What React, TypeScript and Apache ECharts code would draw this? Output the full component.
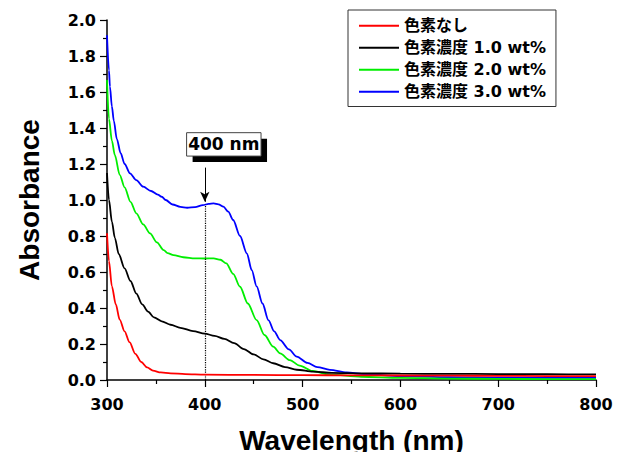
import React, { useEffect, useRef } from "react";
import * as echarts from "echarts";

const seriesNames = ["色素なし", "色素濃度 1.0 wt%", "色素濃度 2.0 wt%", "色素濃度 3.0 wt%"];
const seriesColors = ["#ff0000", "#000000", "#00ee00", "#0000ff"];

const redData: [number, number][] = [
  [300, 0.815], [302, 0.66], [305, 0.52], [309, 0.42], [313, 0.335], [318, 0.27], [323, 0.21],
  [329, 0.145], [335, 0.1], [341, 0.07], [347, 0.052], [355, 0.042], [365, 0.037], [380, 0.033],
  [400, 0.03], [450, 0.028], [500, 0.027], [550, 0.026], [600, 0.025], [650, 0.024], [700, 0.023],
  [750, 0.022], [800, 0.021],
];
const blackData: [number, number][] = [
  [300, 1.15], [302, 1.0], [305, 0.88], [308, 0.79], [312, 0.7], [318, 0.62], [324, 0.55],
  [330, 0.48], [336, 0.42], [342, 0.38], [348, 0.348], [356, 0.326], [365, 0.307], [375, 0.29],
  [388, 0.272], [400, 0.258], [410, 0.245], [420, 0.228], [430, 0.205], [440, 0.172], [450, 0.142],
  [460, 0.115], [470, 0.093], [482, 0.072], [494, 0.057], [511, 0.046], [530, 0.04], [560, 0.037],
  [600, 0.035], [650, 0.034], [700, 0.033], [750, 0.032], [800, 0.031],
];
const greenData: [number, number][] = [
  [300, 1.667], [302, 1.45], [305, 1.33], [308, 1.25], [313, 1.14], [318, 1.07], [324, 0.99],
  [330, 0.926], [337, 0.865], [344, 0.815], [351, 0.765], [358, 0.722], [362, 0.705], [368, 0.694],
  [378, 0.682], [390, 0.676], [400, 0.675], [409, 0.676], [416, 0.668], [422, 0.648], [429, 0.59],
  [436, 0.518], [444, 0.425], [453, 0.333], [461, 0.25], [470, 0.185], [477, 0.148], [487, 0.11],
  [497, 0.08], [510, 0.05], [528, 0.03], [560, 0.018], [600, 0.012], [650, 0.008], [700, 0.006],
  [750, 0.005], [800, 0.005],
];
const blueData: [number, number][] = [
  [300, 1.915], [302, 1.72], [303, 1.63], [305, 1.52], [307, 1.44], [310, 1.34], [314, 1.26],
  [318, 1.2], [323.5, 1.148], [330, 1.11], [337, 1.074], [345, 1.05], [352, 1.03], [356, 1.018],
  [360, 1.0], [367, 0.975], [375, 0.962], [382, 0.957], [390, 0.96], [398, 0.972], [404, 0.978],
  [409, 0.981], [414, 0.976], [419, 0.963], [424, 0.935], [429, 0.889], [436, 0.8], [443, 0.704],
  [448, 0.61], [453, 0.52], [459, 0.425], [465, 0.333], [471, 0.27], [477, 0.222], [486, 0.17],
  [494, 0.13], [505, 0.095], [515, 0.072], [528, 0.056], [545, 0.042], [562, 0.033], [600, 0.022],
  [650, 0.016], [700, 0.013], [750, 0.012], [800, 0.012],
];
const allData = [redData, blackData, greenData, blueData];

// annotation (data coordinates)
const markerWavelength = 400;
const markerPeak = 0.975;
const arrowStart = 1.18;
const arrowEnd = 0.99;
const boxLabel = "400 nm";
const boxLeftTop: [number, number] = [381.4, 1.374];
const boxRightBottom: [number, number] = [457.5, 1.244];

const NUM_FONT = "DejaVu Sans";
const NAME_FONT = "Liberation Sans";
const LEGEND_FONT = "'DejaVu Sans', 'Noto Sans CJK JP'";

export default function App() {
  const ref = useRef<HTMLDivElement>(null);
  useEffect(() => {
    const chart = echarts.init(ref.current!, null, { renderer: "svg" });
    const axisCommon = {
      type: "value" as const,
      nameLocation: "middle" as const,
      nameTextStyle: { fontFamily: NAME_FONT, fontWeight: "bold" as const, fontSize: 28, color: "#000" },
      axisLine: { show: true, onZero: false, lineStyle: { color: "#000", width: 1.5 } },
      axisTick: { show: true, inside: false, length: 7, lineStyle: { color: "#000", width: 1.2 } },
      minorTick: { show: true, splitNumber: 2, length: 4, lineStyle: { color: "#000", width: 1.2 } },
      splitLine: { show: false },
      minorSplitLine: { show: false },
    };
    chart.setOption({
      animation: false,
      backgroundColor: "#fff",
      grid: { left: 107, right: 30, top: 20, bottom: 72, outerBoundsMode: "none", containLabel: false },
      xAxis: {
        ...axisCommon,
        min: 300,
        max: 800,
        interval: 100,
        name: "Wavelength (nm)",
        nameGap: 46,
        axisLabel: { fontFamily: NUM_FONT, fontWeight: "bold", fontSize: 16, color: "#000", margin: 16 },
      },
      yAxis: {
        ...axisCommon,
        min: 0,
        max: 2,
        interval: 0.2,
        name: "Absorbance",
        nameGap: 64,
        axisLabel: {
          fontFamily: NUM_FONT,
          fontWeight: "bold",
          fontSize: 16,
          color: "#000",
          margin: 11,
          formatter: (v: number) => v.toFixed(1),
        },
      },
      legend: {
        data: seriesNames.map((n, i) => ({ name: n, icon: "rect", itemStyle: { color: seriesColors[i] } })),
        orient: "vertical",
        left: 348,
        top: 10,
        itemWidth: 40,
        itemHeight: 2,
        itemGap: 2.5,
        padding: [6, 10, 5, 11],
        borderColor: "#333",
        borderWidth: 1,
        backgroundColor: "#fff",
        textStyle: { fontFamily: LEGEND_FONT, fontWeight: "bold", fontSize: 16, color: "#000", lineHeight: 19.5 },
      },
      series: allData.map((d, i) => ({
        name: seriesNames[i],
        type: "line",
        data: d,
        showSymbol: false,
        symbol: "none",
        smooth: 0.3,
        smoothMonotone: "x",
        color: seriesColors[i],
        lineStyle: { color: seriesColors[i], width: 1.8 },
        z: 2 + (3 - i),
        markLine:
          i === 3
            ? {
                silent: true,
                animation: false,
                label: { show: false },
                symbol: ["none", "none"],
                data: [
                  [
                    { coord: [markerWavelength, 0], symbol: "none", lineStyle: { type: "dotted", color: "#000", width: 1.2 } },
                    { coord: [markerWavelength, markerPeak], symbol: "none" },
                  ],
                  [
                    { coord: [markerWavelength, arrowStart], symbol: "none", lineStyle: { type: "solid", color: "#000", width: 1 } },
                    { coord: [markerWavelength, arrowEnd], symbol: "arrow", symbolSize: [7, 10] },
                  ],
                ],
              }
            : undefined,
      })),
    });
    const p0 = chart.convertToPixel({ gridIndex: 0 }, boxLeftTop) as number[];
    const p1 = chart.convertToPixel({ gridIndex: 0 }, boxRightBottom) as number[];
    const w = p1[0] - p0[0];
    const h = p1[1] - p0[1];
    chart.setOption({
      graphic: [
        {
          type: "rect",
          shape: { x: p0[0] + 6, y: p0[1] + 6, width: w, height: h },
          style: { fill: "#000" },
          z: 100,
        },
        {
          type: "rect",
          shape: { x: p0[0], y: p0[1], width: w, height: h },
          style: { fill: "#fff", stroke: "#444", lineWidth: 1 },
          z: 101,
        },
        {
          type: "text",
          x: p0[0] + w / 2,
          y: p0[1] + h / 2,
          style: {
            text: boxLabel,
            fontFamily: NUM_FONT,
            fontWeight: "bold",
            fontSize: 17,
            fill: "#000",
            align: "center",
            verticalAlign: "middle",
          },
          z: 102,
        },
      ],
    });
    return () => chart.dispose();
  }, []);
  return <div ref={ref} style={{ position: "absolute", left: 0, top: 0, width: 626, height: 452 }} />;
}
